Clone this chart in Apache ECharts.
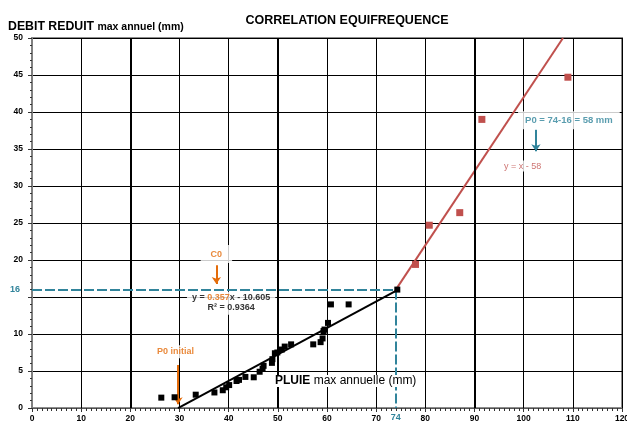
<!DOCTYPE html>
<html>
<head>
<meta charset="utf-8">
<script src="https://cdn.jsdelivr.net/npm/echarts@6/dist/echarts.min.js"></script>
<style>
  html, body { margin: 0; padding: 0; background: #fff; }
  #chart { width: 627px; height: 425px; }
</style>
</head>
<body>
<div id="chart"></div>
<script>
// Observed annual maxima: rainfall (mm) vs reduced flow (mm)
const pluie = [26.3, 29.0, 33.3, 37.1, 38.8, 39.5, 40.1, 41.6, 42.1, 43.4, 45.1, 46.3, 46.9, 47.1, 48.8,
               48.9, 49.4, 49.9, 50.8, 51.4, 52.7, 57.2, 58.7, 59.1, 59.3, 59.5, 60.2, 60.8, 64.4, 74.3];
const debit = [1.4, 1.45, 1.8, 2.1, 2.4, 2.8, 3.1, 3.65, 3.8, 4.2, 4.15, 4.9, 5.3, 5.7, 6.1,
               6.6, 7.4, 7.5, 7.9, 8.3, 8.6, 8.6, 8.9, 9.4, 10.4, 10.6, 11.5, 14.0, 14.0, 16.0];
// Upper range points
const pluieHaut = [78.0, 80.8, 87.0, 91.5, 109.0];
const debitHaut = [19.4, 24.7, 26.4, 39.0, 44.7];

// Linear fit for the lower range: y = a*x + b
const pente = 0.357, origine = -10.605, r2 = 0.9364;
const xFitDebut = 29.7, xFitFin = 74.3;
// Extrapolation above the knee: y = x - P0
const p0 = 58, xKnee = 74, yKnee = 16, xHautFin = 108;

const xTicks = { min: 0, max: 120, interval: 10 };
const yTicks = { min: 0, max: 50, interval: 5 };

const teal = '#31849b';
const orange = '#e46c0a';
const rouge = '#c0504d';
const font = 'Liberation Sans, Arial, sans-serif';

const ligneBasse = [[xFitDebut, pente * xFitDebut + origine], [xFitFin, pente * xFitFin + origine]];
const ligneHaute = [[xKnee, xKnee - p0], [xHautFin, xHautFin - p0]];

function texte(coord, label) {
  return { value: coord, label: label };
}

const chart = echarts.init(document.getElementById('chart'));
chart.setOption({
  animation: false,
  backgroundColor: '#fff',
  textStyle: { fontFamily: font },
  title: {
    text: 'CORRELATION EQUIFREQUENCE',
    left: 342, top: 9, textAlign: 'center',
    textStyle: { fontSize: 12.5, fontWeight: 'bold', color: '#000', fontFamily: font }
  },
  graphic: [
    {
      type: 'text', left: 8, top: 21,
      style: {
        text: '{a|DEBIT REDUIT} {b|max annuel (mm)}',
        rich: {
          a: { fontSize: 12.3, fontWeight: 'bold', fill: '#000', fontFamily: font },
          b: { fontSize: 10.5, fontWeight: 'bold', fill: '#000', fontFamily: font }
        }
      }
    },
    {
      type: 'text', left: 275, top: 375, z: 20,
      style: {
        text: '{a|PLUIE} {b|max annuelle (mm)}',
        backgroundColor: '#fff',
        rich: {
          a: { fontSize: 12, fontWeight: 'bold', fill: '#000', fontFamily: font },
          b: { fontSize: 12, fill: '#000', fontFamily: font }
        }
      }
    }
  ],
  grid: {
    left: 32, right: 5, top: 38, bottom: 17, outerBoundsMode: 'none',
    show: true, borderColor: '#8c8c8c', borderWidth: 2
  },
  xAxis: {
    type: 'value', min: xTicks.min, max: xTicks.max, interval: xTicks.interval,
    axisLine: { onZero: false, lineStyle: { color: '#555', width: 1 } },
    axisTick: { length: 4, lineStyle: { color: '#333' } },
    minorTick: { show: true, splitNumber: 10, length: 3, lineStyle: { color: '#333' } },
    axisLabel: { fontSize: 8.5, fontWeight: 'bold', color: '#000', margin: 6, fontFamily: font, hideOverlap: false },
    splitLine: { show: true, lineStyle: { color: '#000', width: 1 } }
  },
  yAxis: {
    type: 'value', min: yTicks.min, max: yTicks.max, interval: yTicks.interval,
    axisLine: { show: true, lineStyle: { color: '#808080', width: 2 } },
    axisTick: { show: true, length: 4, lineStyle: { color: '#333' } },
    minorTick: { show: true, splitNumber: 5, length: 2, lineStyle: { color: '#333' } },
    axisLabel: {
      fontSize: 8.5, fontWeight: 'bold', color: '#000', margin: 9, fontFamily: font,
      formatter: v => (v === 15 ? '' : String(v))
    },
    splitLine: { show: true, lineStyle: { color: '#000', width: 1 } }
  },
  series: [
    {
      // heavier grid verticals
      type: 'line', data: [], silent: true,
      markLine: {
        silent: true, symbol: 'none', label: { show: false },
        lineStyle: { color: '#000', width: 2, type: 'solid' },
        data: [{ xAxis: 20 }, { xAxis: 50 }, { xAxis: 90 }]
      }
    },
    {
      // reading lines at the knee
      type: 'line', data: [], silent: true, z: 3,
      markLine: {
        silent: true, symbol: 'none',
        lineStyle: { color: teal, width: 2, type: [10, 3] },
        data: [
          [{ coord: [0, yKnee], label: { show: true, position: 'start', formatter: String(yKnee), color: teal, fontSize: 9, fontWeight: 'bold', distance: 12 } },
           { coord: [xKnee, yKnee] }],
          [{ coord: [xKnee, yKnee] },
           { coord: [xKnee, 0], label: { show: true, position: 'end', formatter: String(xKnee), color: teal, fontSize: 9, fontWeight: 'bold', distance: 5 } }]
        ]
      }
    },
    {
      type: 'line', data: ligneHaute, symbol: 'none', z: 4,
      lineStyle: { color: rouge, width: 2 }
    },
    {
      type: 'line', data: ligneBasse, symbol: 'none', z: 4,
      lineStyle: { color: '#000', width: 2 }
    },
    {
      type: 'scatter', z: 6, symbol: 'rect', symbolSize: 6,
      itemStyle: { color: '#000', opacity: 1 },
      data: pluie.map((x, i) => [x, debit[i]])
    },
    {
      type: 'scatter', z: 6, symbol: 'rect', symbolSize: 7,
      itemStyle: { color: rouge, opacity: 1 },
      data: pluieHaut.map((x, i) => [x, debitHaut[i]])
    },
    {
      // annotation texts
      type: 'scatter', symbolSize: 0, silent: true, z: 8,
      data: [
        texte([37.5, 20.8], { show: true, position: 'inside', formatter: 'C0', color: orange, fontSize: 9, fontWeight: 'bold', backgroundColor: '#fff', padding: [3, 10, 6, 10] }),
        texte([29.2, 7.6], { show: true, position: 'inside', formatter: 'P0 initial', color: orange, fontSize: 9, fontWeight: 'bold', backgroundColor: '#fff', padding: [2, 3] }),
        texte([40.5, 14.15], {
          show: true, position: 'inside', backgroundColor: '#fff', padding: [1, 5, 2, 5], lineHeight: 10, align: 'center',
          formatter: '{n|y = }{o|' + pente + '}{n|x - ' + Math.abs(origine) + '}\n{n|R² = ' + r2 + '}',
          rich: {
            n: { fontSize: 9, color: '#000', fontWeight: 'bold', fontFamily: font, lineHeight: 10 },
            o: { fontSize: 9, color: orange, fontWeight: 'bold', fontFamily: font, lineHeight: 10 }
          }
        }),
        texte([109.2, 38.9], { show: true, position: 'inside', formatter: 'P0 = 74-16 = ' + p0 + ' mm', color: teal, fontSize: 9.5, fontWeight: 'bold', backgroundColor: '#fff', padding: [4, 7] }),
        texte([99.8, 32.7], { show: true, position: 'inside', formatter: 'y = x - ' + p0, color: rouge, fontSize: 9, backgroundColor: '#fff', padding: [1, 3] })
      ]
    },
    {
      // annotation arrows
      type: 'line', data: [], silent: true, z: 9,
      markLine: {
        silent: true, symbol: ['none', 'arrow'], symbolSize: 7, label: { show: false },
        data: [
          [{ coord: [37.5, 19.3], lineStyle: { color: orange, width: 2, type: 'solid' } }, { coord: [37.5, 16.75] }],
          [{ coord: [29.7, 5.8], lineStyle: { color: orange, width: 2, type: 'solid' } }, { coord: [29.7, 0.5] }],
          [{ coord: [102.5, 37.6], lineStyle: { color: teal, width: 2, type: 'solid' } }, { coord: [102.5, 34.7] }]
        ]
      }
    }
  ]
});
</script>
</body>
</html>
